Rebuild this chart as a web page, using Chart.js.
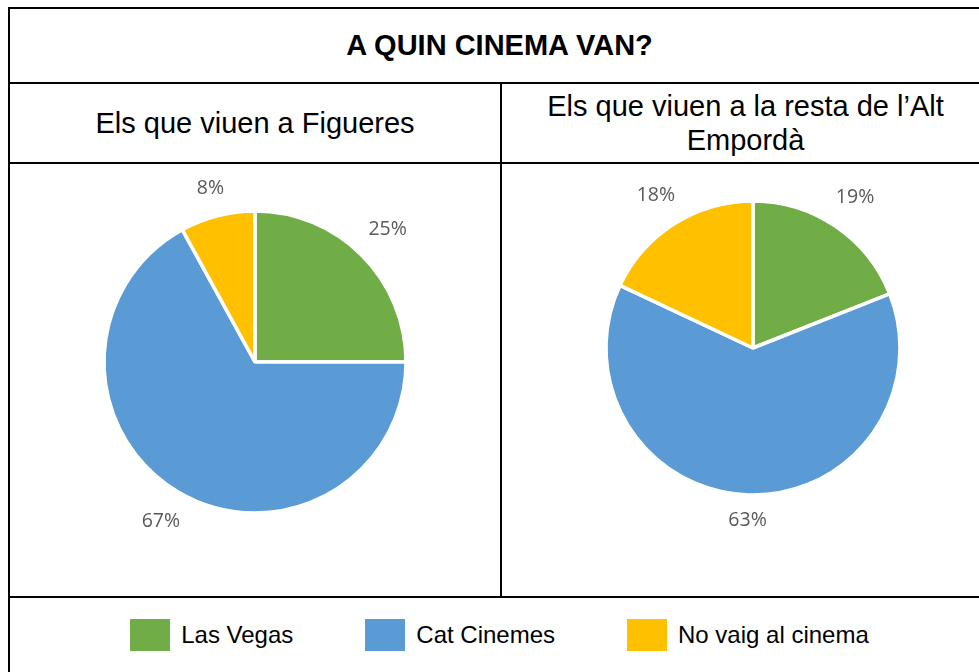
<!DOCTYPE html>
<html>
<head>
<meta charset="utf-8">
<title>A quin cinema van?</title>
<script src="https://cdn.jsdelivr.net/npm/chart.js@4/dist/chart.umd.min.js"></script>
<style>
  body {
    margin: 0;
    width: 979px;
    height: 672px;
    overflow: hidden;
    background: #fff;
    position: relative;
    font-family: "Liberation Sans", Arial, sans-serif;
    color: #000;
  }
  .line { position: absolute; background: #000; }
  .cell {
    position: absolute;
    display: flex;
    align-items: center;
    justify-content: center;
    text-align: center;
  }
  .title { left: 10px; top: 9px; width: 979px; height: 73px; font-weight: bold; font-size: 29px; }
  .head { top: 84px; height: 78px; font-size: 29px; line-height: 34px; }
  .pie { position: absolute; width: 420px; height: 420px; pointer-events: none; }
  #legend {
    position: absolute; left: 10px; top: 598px; width: 979px; height: 74px;
    display: flex; align-items: center; justify-content: center; gap: 72px;
    font-size: 24px;
  }
  .item { display: flex; align-items: center; }
  .swatch { width: 40px; height: 32px; margin-right: 11px; }
</style>
</head>
<body>
  <!-- table borders -->
  <div class="line" style="left:8px; top:7px; width:981px; height:2px;"></div>
  <div class="line" style="left:8px; top:7px; width:2px; height:665px;"></div>
  <div class="line" style="left:8px; top:82px; width:981px; height:2px;"></div>
  <div class="line" style="left:8px; top:162px; width:981px; height:2px;"></div>
  <div class="line" style="left:8px; top:596px; width:981px; height:2px;"></div>
  <div class="line" style="left:500px; top:82px; width:2px; height:516px;"></div>

  <div class="cell title">A QUIN CINEMA VAN?</div>
  <div class="cell head" style="left:10px; width:490px;">Els que viuen a Figueres</div>
  <div class="cell head" style="left:502px; width:487px;">Els que viuen a la resta de l’Alt<br>Empordà</div>

  <div class="pie" style="left:45px; top:152px;"><canvas id="pieFigueres"></canvas></div>
  <div class="pie" style="left:543px; top:138px;"><canvas id="pieAltEmporda"></canvas></div>

  <div id="legend"></div>

<script>
const categories = ["Las Vegas", "Cat Cinemes", "No vaig al cinema"];
const figueresValues = [25, 67, 8];
const altEmpordaValues = [19, 63, 18];
const sliceColors = ["#70AD47", "#5B9BD5", "#FFC000"];

// percentage labels outside each slice, pushed out a bit more for diagonal ones
const outsideLabels = {
  id: "outsideLabels",
  afterDatasetsDraw(chart) {
    const ctx = chart.ctx;
    const data = chart.data.datasets[0].data;
    const total = data.reduce((a, b) => a + b, 0);
    ctx.save();
    ctx.font = "19.5px 'Open Sans', 'Noto Sans', sans-serif";
    ctx.fillStyle = "#595959";
    ctx.textAlign = "center";
    ctx.textBaseline = "middle";
    chart.getDatasetMeta(0).data.forEach((arc, i) => {
      const p = arc.getProps(["x", "y", "startAngle", "endAngle", "outerRadius"], true);
      const mid = (p.startAngle + p.endAngle) / 2;
      const txt = Math.round(data[i] / total * 100) + "%";
      const halfW = ctx.measureText(txt).width / 2;
      const halfH = 7;
      const dist = p.outerRadius + 18 + Math.abs(Math.cos(mid)) * halfW + Math.abs(Math.sin(mid)) * halfH;
      ctx.fillText(txt, p.x + Math.cos(mid) * dist, p.y + Math.sin(mid) * dist);
    });
    ctx.restore();
  }
};

function makePie(id, values, radius) {
  new Chart(document.getElementById(id), {
    type: "pie",
    data: {
      labels: categories,
      datasets: [{
        data: values,
        backgroundColor: sliceColors,
        borderColor: "#ffffff",
        borderWidth: 3.5,
        hoverOffset: 0,
      }],
    },
    options: {
      responsive: true,
      maintainAspectRatio: false,
      animation: false,
      radius: radius,
      layout: { padding: 0 },
      plugins: {
        legend: { display: false },
        tooltip: { enabled: false },
      },
    },
    plugins: [outsideLabels],
  });
}

makePie("pieFigueres", figueresValues, 151);
makePie("pieAltEmporda", altEmpordaValues, 147);

const legend = document.getElementById("legend");
categories.forEach((name, i) => {
  const item = document.createElement("div");
  item.className = "item";
  const sw = document.createElement("span");
  sw.className = "swatch";
  sw.style.background = sliceColors[i];
  const label = document.createElement("span");
  label.textContent = name;
  item.appendChild(sw);
  item.appendChild(label);
  legend.appendChild(item);
});
</script>
</body>
</html>
